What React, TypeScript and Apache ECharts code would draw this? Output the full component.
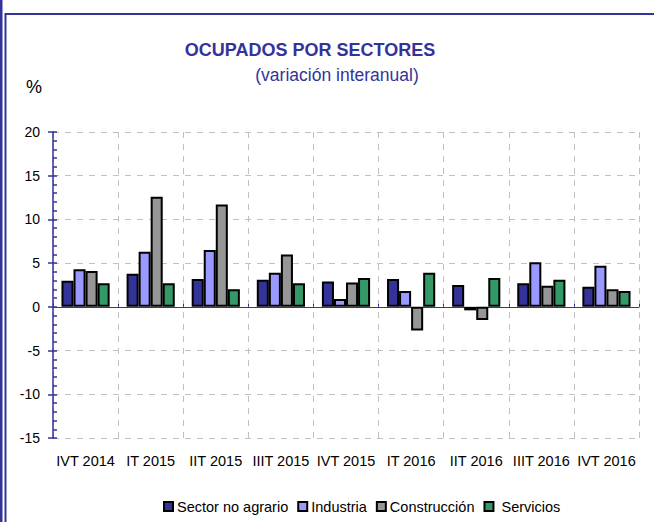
import React, { useEffect, useRef } from "react";
import * as echarts from "echarts";

const categories = ["IVT 2014", "IT 2015", "IIT 2015", "IIIT 2015", "IVT 2015", "IT 2016", "IIT 2016", "IIIT 2016", "IVT 2016"];
const sectorNoAgrario = [3.0, 3.8, 3.2, 3.1, 2.9, 3.2, 2.5, 2.7, 2.3];
const industria = [4.3, 6.3, 6.5, 3.9, 0.9, 1.8, -0.4, 5.1, 4.7];
const construccion = [4.1, 12.6, 11.7, 6.0, 2.8, -2.7, -1.5, 2.4, 2.0];
const servicios = [2.7, 2.7, 2.0, 2.7, 3.3, 3.9, 3.3, 3.1, 1.8];
const seriesNames = ["Sector no agrario", "Industria", "Construcción", " Servicios"];
const seriesColors = ["#333399", "#9999FF", "#969696", "#339966"];

const FONT = "Liberation Sans, Arial, sans-serif";

export default function App() {
  const ref = useRef<HTMLDivElement>(null);
  useEffect(() => {
    document.body.style.margin = "0";
    if (!ref.current) return;
    const chart = echarts.init(ref.current, null, { renderer: "svg" });
    const values = [sectorNoAgrario, industria, construccion, servicios];
    const yCommon = { type: "value", min: -15, max: 20, interval: 5 } as any;
    chart.setOption({
      animation: false,
      textStyle: { fontFamily: FONT },
      grid: { left: 53, right: 15, top: 132, bottom: 84 },
      graphic: [
        { type: "rect", shape: { x: 0, y: 0, width: 2.5, height: 522 }, style: { fill: "#333399" } },
        { type: "rect", shape: { x: 5.5, y: 14, width: 700, height: 600 }, style: { fill: "none", stroke: "#333399", lineWidth: 2 } },
        { type: "text", x: 310, y: 41, style: { text: "OCUPADOS POR SECTORES", fill: "#333399", font: "bold 18px " + FONT, textAlign: "center" } },
        { type: "text", x: 337, y: 66, style: { text: "(variación interanual)", fill: "#333399", font: "17.5px " + FONT, textAlign: "center" } },
        { type: "text", x: 26, y: 78, style: { text: "%", fill: "#000", font: "18px " + FONT } },
      ],
      legend: {
        bottom: 3,
        left: 158,
        itemWidth: 9,
        itemHeight: 9,
        itemGap: 9,
        icon: "rect",
        textStyle: { fontSize: 14.5, color: "#000", fontFamily: FONT, padding: [0, 0, 0, -1] },
        data: seriesNames,
      },
      xAxis: [
        {
          type: "category",
          data: categories,
          position: "bottom",
          axisLine: { show: false, onZero: false },
          axisTick: { show: false },
          axisLabel: { color: "#000", fontSize: 14.5, margin: 15, fontFamily: FONT, interval: 0 },
          splitLine: { show: true, lineStyle: { color: "#c0c0c0", type: [6, 6], width: 1 } },
        },
        {
          type: "category",
          data: categories,
          axisLine: { show: true, onZero: true, lineStyle: { color: "#333399", width: 1 } },
          axisTick: { show: true, length: 3, lineStyle: { color: "#333399" } },
          axisLabel: { show: false },
          splitLine: { show: false },
        },
      ],
      yAxis: [
        {
          ...yCommon,
          axisLine: { show: true, lineStyle: { color: "#333399", width: 1.5 } },
          axisTick: { show: true, inside: true, length: 4, lineStyle: { color: "#333399", width: 1.5 } },
          minorTick: { show: true, splitNumber: 5, length: 4, lineStyle: { color: "#333399", width: 1.5 } },
          axisLabel: { color: "#000", fontSize: 14, margin: 13, fontFamily: FONT },
          splitLine: { show: true, lineStyle: { color: "#c0c0c0", type: [6, 6], width: 1 } },
        },
        {
          ...yCommon,
          position: "left",
          axisLine: { show: false },
          axisTick: { show: true, length: 5, lineStyle: { color: "#333399", width: 1.5 } },
          axisLabel: { show: false },
          splitLine: { show: false },
        },
      ],
      series: values.map((v, i) => ({
        name: seriesNames[i],
        type: "bar",
        data: v,
        xAxisIndex: 0,
        yAxisIndex: 0,
        barGap: "0%",
        barCategoryGap: "26%",
        itemStyle: { color: seriesColors[i], borderColor: "#000", borderWidth: 2 },
      })),
    });
    return () => chart.dispose();
  }, []);
  return <div ref={ref} style={{ width: 654, height: 522 }} />;
}
